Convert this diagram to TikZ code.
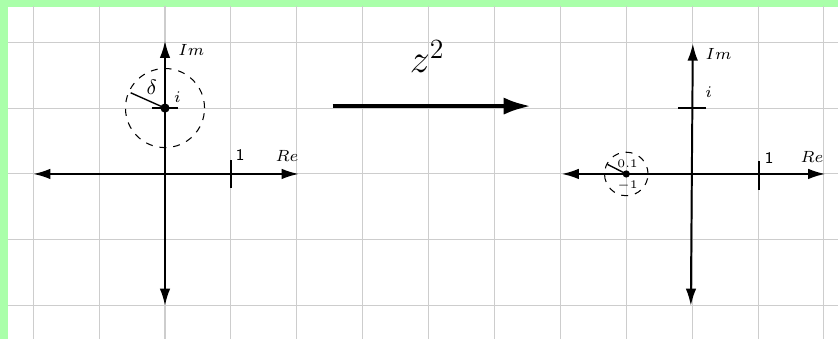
\documentclass[tikz,border=0pt]{standalone}
\usetikzlibrary{arrows.meta,calc}
\definecolor{framegreen}{RGB}{170,255,170}
\definecolor{gridgray}{RGB}{205,205,205}
\begin{document}
\begin{tikzpicture}[
  axis/.style={line width=0.85pt,{Latex[length=2.6mm,width=1.6mm]}-{Latex[length=2.6mm,width=1.6mm]}},
  tick/.style={line width=0.85pt},
  circ/.style={draw,dashed,line width=0.45pt,circle},
  lab/.style={inner sep=1pt,font=\scriptsize},
  dot/.style={circle,fill,inner sep=0pt,minimum size=1.4mm}
]
\useasboundingbox (-2.504,-2.504) rectangle (10.213,2.640);
\fill[framegreen] (-2.504,-2.504) rectangle (10.213,2.640);
\fill[white] (-2.38,-2.504) rectangle (10.213,2.535);
\begin{scope}
\clip (-2.38,-2.504) rectangle (10.213,2.535);
\draw[gridgray,line width=0.45pt] (-3,-3) grid (11,3);
\end{scope}
% left plane
\coordinate (LO) at (0,0);
\coordinate (Lw) at (-2,0); \coordinate (Le) at (2.03,0);
\coordinate (Ln) at (0,2.02); \coordinate (Ls) at (0,-2);
\draw[axis] (Lw) -- (Le);
\draw[axis] (Ls) -- (Ln);
\coordinate (L1a) at (1,0.21); \coordinate (L1b) at (1,-0.21);
\draw[tick] (L1a) -- (L1b);
\coordinate (Lia) at (-0.2,1); \coordinate (Lib) at (0.2,1);
\draw[tick] (Lia) -- (Lib);
\node[dot] (Li) at (0,1) {};
\node[circ,minimum size=1.2cm,inner sep=0pt] (Lc) at (0,1) {};
\coordinate (Lr) at ($(0,1)+(156:0.57)$);
\draw[line width=0.6pt] (Li.center) -- (Lr);
\node[lab] (Lone) at (1.14,0.29) {\sffamily 1};
\node[lab] (LRe) at (1.85,0.27) {$Re$};
\node[lab] (LIm) at (0.4,1.88) {$Im$};
\node[lab] (Lil) at (0.19,1.17) {$i$};
\node[inner sep=1pt,font=\small] (Ld) at (-0.2,1.32) {$\delta$};
% big arrow
\coordinate (A1) at (2.545,1.03);
\coordinate (A2) at (5.56,1.03);
\draw[line width=2pt,-{Latex[length=4.2mm,width=2.6mm]}] (A1) -- (A2);
\node[font=\LARGE] (zz) at (3.98,1.78) {$z^2$};
% right plane
\coordinate (RO) at (8,0);
\coordinate (Rw) at (6.02,0); \coordinate (Re) at (10.02,0);
\coordinate (Rn) at (8.01,1.98); \coordinate (Rs) at (7.98,-2);
\draw[axis] (Rw) -- (Re);
\draw[axis] (Rs) -- (Rn);
\coordinate (R1a) at (9.02,0.2); \coordinate (R1b) at (9.02,-0.24);
\draw[tick] (R1a) -- (R1b);
\coordinate (Ria) at (7.79,1); \coordinate (Rib) at (8.21,1);
\draw[tick] (Ria) -- (Rib);
\node[dot,minimum size=1.1mm] (Rm) at (7,0) {};
\node[circ,minimum size=0.66cm,inner sep=0pt] (Rc) at (7,0) {};
\coordinate (Rr) at ($(7,0)+(153:0.32)$);
\draw[line width=0.6pt] (Rm.center) -- (Rr);
\node[lab] (Rone) at (9.17,0.24) {\sffamily 1};
\node[lab] (RRe) at (9.82,0.26) {$Re$};
\node[lab] (RIm) at (8.4,1.82) {$Im$};
\node[lab] (Ril) at (8.25,1.24) {$i$};
\node[inner sep=0pt,font=\tiny] (Rp1) at (7.02,0.16) {0.1};
\node[inner sep=0pt,font=\tiny] (Rm1) at (7.02,-0.17) {$-1$};
\end{tikzpicture}
\end{document}
